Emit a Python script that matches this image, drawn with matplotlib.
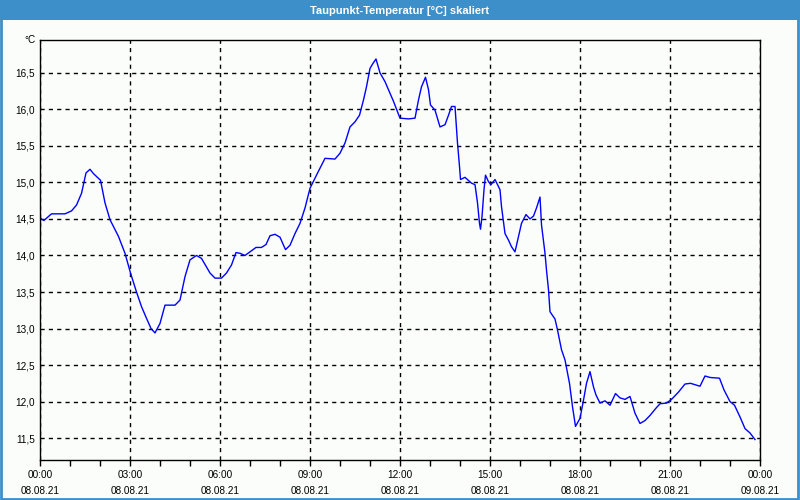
import numpy as np
import matplotlib.pyplot as plt
from matplotlib.patches import Rectangle
from matplotlib.ticker import MultipleLocator

plt.rcParams['font.family'] = ['Liberation Sans', 'DejaVu Sans']

# minutes since 08.08.21 00:00 and dew point in °C
minutes = [0, 8, 23, 50, 63, 73, 83, 92, 100, 107, 121, 130, 140, 157, 170, 181,
           193, 203, 213, 222, 230, 240, 250, 270, 280, 290, 300, 313, 323, 340,
           350, 363, 373, 383, 392, 400, 410, 420, 432, 443, 452, 460, 470, 480,
           491, 500, 510, 520, 530, 540, 553, 570, 590, 600, 610, 620, 630, 639,
           647, 653, 660, 665, 672, 680, 690, 697, 707, 720, 737, 750, 757, 763,
           771, 777, 781, 790, 800, 810, 817, 823, 830, 835, 839, 841, 850, 863,
           870, 875, 879, 881, 884, 888, 891, 897, 902, 910, 915, 920, 923, 930,
           937, 943, 950, 957, 963, 972, 980, 987, 993, 1000, 1003, 1010, 1013,
           1017, 1020, 1030, 1035, 1043, 1050, 1059, 1065, 1071, 1080, 1087, 1093,
           1100, 1107, 1112, 1120, 1130, 1140, 1151, 1160, 1170, 1180, 1190, 1200,
           1210, 1220, 1232, 1240, 1253, 1263, 1277, 1290, 1301, 1320, 1330, 1340,
           1359, 1368, 1380, 1389, 1400, 1410, 1420, 1430]
taupunkt = [14.51, 14.48, 14.57, 14.57, 14.61, 14.69, 14.85, 15.13, 15.18, 15.12,
            15.03, 14.72, 14.49, 14.26, 14.03, 13.76, 13.50, 13.30, 13.14, 13.00,
            12.94, 13.07, 13.32, 13.32, 13.39, 13.71, 13.94, 14.00, 13.96, 13.76,
            13.69, 13.69, 13.76, 13.87, 14.04, 14.03, 14.00, 14.05, 14.11, 14.11,
            14.15, 14.27, 14.29, 14.25, 14.08, 14.14, 14.30, 14.44, 14.65, 14.92,
            15.10, 15.33, 15.32, 15.40, 15.54, 15.76, 15.83, 15.92, 16.13, 16.31,
            16.56, 16.62, 16.69, 16.50, 16.38, 16.27, 16.11, 15.88, 15.87, 15.88,
            16.13, 16.31, 16.44, 16.27, 16.06, 15.99, 15.76, 15.79, 15.92, 16.04,
            16.04, 15.54, 15.22, 15.04, 15.07, 14.99, 14.97, 14.72, 14.44, 14.36,
            14.53, 14.90, 15.10, 15.01, 14.97, 15.04, 14.97, 14.90, 14.67, 14.30,
            14.21, 14.12, 14.05, 14.26, 14.44, 14.56, 14.50, 14.54, 14.65, 14.80,
            14.42, 14.03, 13.80, 13.53, 13.23, 13.13, 12.98, 12.71, 12.57, 12.25,
            11.93, 11.66, 11.77, 12.02, 12.25, 12.41, 12.20, 12.09, 11.98, 12.01,
            11.95, 12.11, 12.05, 12.03, 12.07, 11.84, 11.70, 11.74, 11.81, 11.91,
            11.97, 11.98, 12.03, 12.13, 12.24, 12.25, 12.21, 12.35, 12.33, 12.32,
            12.16, 12.00, 11.95, 11.79, 11.63, 11.57, 11.48]

x_ticks = [0, 3, 6, 9, 12, 15, 18, 21, 24]
x_labels = ['00:00\n08.08.21', '03:00\n08.08.21', '06:00\n08.08.21',
            '09:00\n08.08.21', '12:00\n08.08.21', '15:00\n08.08.21',
            '18:00\n08.08.21', '21:00\n08.08.21', '00:00\n09.08.21']
y_ticks = [11.5, 12.0, 12.5, 13.0, 13.5, 14.0, 14.5, 15.0, 15.5, 16.0, 16.5]

blau = '#3c8fc8'
bg = '#fbfdfb'

fig = plt.figure(figsize=(8, 5), dpi=100, facecolor=bg)
ax = fig.add_axes([0.05, 0.08, 0.90, 0.84], facecolor=bg)

stunden = np.array(minutes) / 60.0
ax.plot(stunden, taupunkt, color='#0000ff', lw=1)

ax.set_xlim(0, 24)
ax.set_ylim(11.2, 16.95)
ax.set_xticks(x_ticks)
ax.set_xticklabels(x_labels, linespacing=1.75)
ax.xaxis.set_minor_locator(MultipleLocator(1))
ax.set_yticks(y_ticks)
ax.set_yticklabels([f'{v:.1f}'.replace('.', ',') for v in y_ticks])

ax.tick_params(axis='x', which='both', direction='out', length=4, width=1,
               labelsize=7.2, pad=3, colors='black')
ax.tick_params(axis='y', length=0, labelsize=7.2, pad=3.5)
ax.grid(True, which='major', color='black', ls=(0, (3, 3)), lw=1)
for s in ax.spines.values():
    s.set_color('black')
    s.set_linewidth(1)

ax.text(-0.006, 1.0, '°C', transform=ax.transAxes, ha='right', va='center',
        fontsize=7.2)

# title bar and window frame
fig.patches.append(Rectangle((0, 0.96), 1, 0.04, transform=fig.transFigure,
                             facecolor=blau, edgecolor='none', zorder=0))
fig.patches.append(Rectangle((0.001, 0.002), 0.997, 0.996, transform=fig.transFigure,
                             facecolor='none', edgecolor=blau, lw=2, zorder=1))
fig.text(0.5, 0.979, 'Taupunkt-Temperatur [°C] skaliert', color='white',
         ha='center', va='center', fontsize=8, fontweight='bold')

fig.savefig('out.png', dpi=100, facecolor=bg)
